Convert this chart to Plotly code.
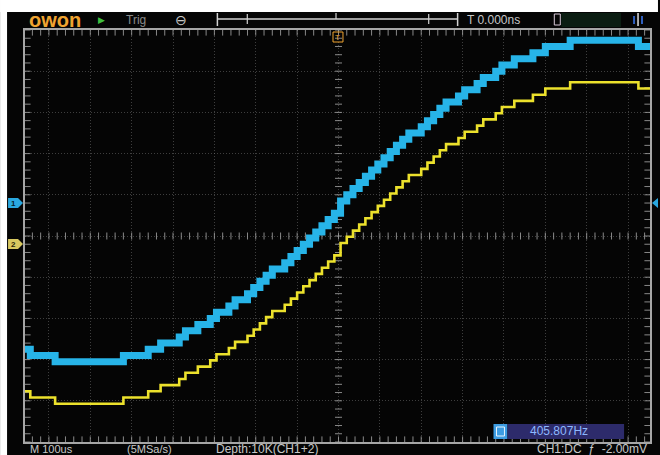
import numpy as np
import plotly.graph_objects as go

# ---- acquisition / display settings ----
US_PER_DIV = 100.0        # M 100us
SAMPLE_STEP_US = 15.0     # spacing of displayed points
FIRST_SAMPLE_US = -760.0  # time of first displayed point (trigger at 0)
CODE_DIV = 0.15           # one quantisation step, in divisions
CH1_POS_DIV = 0.85        # channel offsets (marker positions)
CH2_POS_DIV = -0.17

# displayed points as quantisation step codes
ch1_codes = [
    -24, -25, -25, -25, -25, -26, -26, -26, -26, -26, -26, -26, -26, -26, -26, -26,
    -25, -25, -25, -25, -24, -24, -23, -23, -23, -22, -21, -21, -20, -20, -19, -18,
    -18, -17, -16, -16, -15, -14, -13, -12, -11, -11, -10, -9, -8, -7, -6, -5,
    -4, -3, -2,
    0, 1, 2, 3, 4, 5, 6, 7, 8, 9, 10, 11, 11, 12, 13, 14, 15, 16, 16, 17, 18, 18,
    19, 20, 20, 21, 22, 22, 23, 23, 23, 24, 24, 25, 25, 25, 25, 26, 26, 26, 26, 26,
    26, 26, 26, 26, 26, 26, 25, 25, 25,
]
ch2_codes = [
    -24, -25, -25, -25, -25, -26, -26, -26, -26, -26, -26, -26, -26, -26, -26, -26,
    -25, -25, -25, -25, -24, -24, -23, -23, -23, -22, -21, -21, -20, -20, -19, -18,
    -18, -17, -16, -16, -15, -14, -13, -12, -11, -11, -10, -9, -8, -7, -6, -5,
    -4, -3, -2,
    0, 1, 2, 3, 4, 5, 6, 7, 8, 9, 10, 11, 11, 12, 13, 14, 15, 16, 16, 17, 18, 18,
    19, 20, 20, 21, 22, 22, 23, 23, 23, 24, 24, 25, 25, 25, 25, 26, 26, 26, 26, 26,
    26, 26, 26, 26, 26, 26, 25, 25, 25,
]

timebase_label = "M 100us"
sample_rate_label = "(5MSa/s)"
depth_label = "Depth:10K(CH1+2)"
trigger_label = "CH1:DC  ƒ  -2.00mV"
freq_label = "405.807Hz"
delay_label = "T 0.000ns"

# ---- screen geometry (pixels) ----
W, H = 660, 455
GL, GR, GT, GB = 25, 652, 30, 442      # graticule box
X0_PX, PX_PER_DIV_X = 339.5, 41.5      # trigger column
X_RANGE = [-(X0_PX - GL) / PX_PER_DIV_X * US_PER_DIV, (GR - X0_PX) / PX_PER_DIV_X * US_PER_DIV]
Y_RANGE = [-5, 5]


def pp(x, y):
    """pixel position -> paper coordinates"""
    return (x - GL) / (GR - GL), (GB - y) / (GB - GT)


t_us = FIRST_SAMPLE_US + SAMPLE_STEP_US * np.arange(len(ch1_codes))
ch1 = CH1_POS_DIV + CODE_DIV * np.asarray(ch1_codes)
ch2 = CH2_POS_DIV + CODE_DIV * np.asarray(ch2_codes)

fig = go.Figure()

# graticule tick marks (every 1/5 division) on the border and on the centre cross
tick_col = "rgba(160,160,160,0.85)"
xt = np.arange(-740, 741, 20)
yt = np.round(np.arange(-5, 5.001, 0.2), 3)
for yy in (Y_RANGE[0], Y_RANGE[1]):
    fig.add_trace(go.Scatter(x=xt, y=[yy] * len(xt), mode="markers", cliponaxis=True,
                             marker=dict(symbol="line-ns", size=8, line=dict(width=1, color=tick_col))))
for xx in (X_RANGE[0], X_RANGE[1]):
    fig.add_trace(go.Scatter(x=[xx] * len(yt), y=yt, mode="markers", cliponaxis=True,
                             marker=dict(symbol="line-ew", size=8, line=dict(width=1, color=tick_col))))
fig.add_trace(go.Scatter(x=xt, y=[0] * len(xt), mode="markers",
                         marker=dict(symbol="line-ns", size=5, line=dict(width=1, color=tick_col))))
fig.add_trace(go.Scatter(x=[0] * len(yt), y=yt, mode="markers",
                         marker=dict(symbol="line-ew", size=5, line=dict(width=1, color=tick_col))))

# channel waveforms
fig.add_trace(go.Scatter(x=t_us, y=ch1, mode="lines", name="CH1",
                         line=dict(color="#27b4e8", width=7, shape="hv")))
fig.add_trace(go.Scatter(x=t_us, y=ch2, mode="lines", name="CH2",
                         line=dict(color="#ece12c", width=2.6, shape="hv")))

shapes = []
ann = []


def rect(x0, y0, x1, y1, fill=None, line=None, lw=1):
    a = pp(x0, y0)
    b = pp(x1, y1)
    shapes.append(dict(type="rect", xref="paper", yref="paper", x0=a[0], y0=a[1], x1=b[0], y1=b[1],
                       fillcolor=fill, line=dict(color=line or "rgba(0,0,0,0)", width=lw if line else 0),
                       layer="above"))


def seg(x0, y0, x1, y1, color, lw=1.2):
    a = pp(x0, y0)
    b = pp(x1, y1)
    shapes.append(dict(type="line", xref="paper", yref="paper", x0=a[0], y0=a[1], x1=b[0], y1=b[1],
                       line=dict(color=color, width=lw), layer="above"))


def path(points, fill):
    d = "M " + " L ".join("%f,%f" % pp(x, y) for x, y in points) + " Z"
    shapes.append(dict(type="path", xref="paper", yref="paper", path=d, fillcolor=fill,
                       line=dict(width=0), layer="above"))


def text(x, y, s, color, size=10, anchor="left", bold=False, bg=None):
    a = pp(x, y)
    ann.append(dict(xref="paper", yref="paper", x=a[0], y=a[1], text=("<b>%s</b>" % s) if bold else s,
                    showarrow=False, xanchor=anchor, yanchor="middle", bgcolor=bg,
                    font=dict(family="Liberation Sans, Arial, sans-serif", size=size, color=color)))


# white frame strips of the capture
rect(0, 0, W, 12, fill="white")
rect(0, 0, 7, H, fill="white")

# ---- top status bar ----
text(27, 20, "owon", "#f0a431", size=20, bold=True)
text(96, 20, "▶", "#3fbf3f", size=9)
text(124, 20, "Trig", "#8a8a8a", size=12)
text(181, 20, "⊖", "#c8c8c8", size=14, anchor="center")
seg(218, 19, 459, 19, "#d0d0d0", 1.5)
seg(218, 13, 218, 26, "#d0d0d0", 1.5)
seg(459, 13, 459, 26, "#d0d0d0", 1.5)
seg(248, 14, 248, 24, "#d0d0d0", 1.2)
seg(430, 14, 430, 24, "#d0d0d0", 1.2)
seg(337, 13, 337, 19, "#d0d0d0", 1.2)
text(466, 20, delay_label, "#c8c8c8", size=12)
rect(563, 13, 623, 27, fill="#0b1d12")
rect(556, 14, 562, 25, line="#d8c8d8", lw=1)
seg(640, 13, 640, 26, "#e0e0e0", 1.5)
seg(636, 16, 636, 24, "#3060c0", 2)
seg(644, 16, 644, 24, "#3060c0", 2)

# trigger position marker
text(339, 37, "T", "#f0a431", size=8, anchor="center")
rect(334, 32, 344, 42, line="#f0a431", lw=1)

# channel position markers
path([(8, 198), (18, 198), (23, 203), (18, 208), (8, 208)], "#2aa8e0")
text(13, 203, "1", "#08202e", size=8, anchor="center", bold=True)
path([(8, 239), (18, 239), (23, 244), (18, 249), (8, 249)], "#d8c860")
text(13, 244, "2", "#2a2408", size=8, anchor="center", bold=True)
# trigger level marker
path([(660, 198), (654, 203), (660, 208)], "#2aa8e0")

# ---- bottom status ----
rect(495, 424, 509, 439, fill="#3d9ce2")
rect(498, 427, 506, 436, line="#e8f4ff", lw=1)
rect(509, 424, 626, 439, fill="#2d2b6b")
text(561, 431, freq_label, "#8db8ff", size=12, anchor="center")
text(28, 449, timebase_label, "#c8c8c8", size=11)
text(125, 449, sample_rate_label, "#c8c8c8", size=11)
text(215, 449, depth_label, "#c8c8c8", size=12)
text(651, 449, trigger_label, "#c8c8c8", size=12, anchor="right")

grid_col = "rgba(120,120,120,0.5)"
axis_common = dict(showticklabels=False, ticks="", zeroline=False, showline=True, mirror=True,
                   linecolor="#a6a6a6", linewidth=1.5, showgrid=True, gridcolor=grid_col,
                   gridwidth=1, griddash="1px,2px", fixedrange=True)

fig.update_layout(
    width=W, height=H,
    margin=dict(l=GL, r=W - GR, t=GT, b=H - GB, pad=0),
    paper_bgcolor="#050505", plot_bgcolor="#050505",
    showlegend=False, hovermode=False,
    xaxis=dict(range=X_RANGE, tick0=0, dtick=US_PER_DIV, **axis_common),
    yaxis=dict(range=Y_RANGE, tick0=0, dtick=1, **axis_common),
    shapes=shapes, annotations=ann,
)

fig.write_html("out.html")
